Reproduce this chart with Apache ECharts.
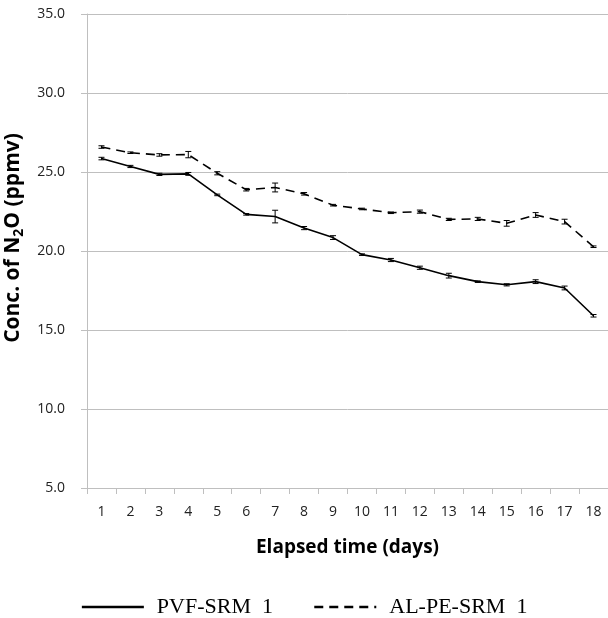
<!DOCTYPE html>
<html>
<head>
<meta charset="utf-8">
<script src="https://cdn.jsdelivr.net/npm/echarts@6/dist/echarts.min.js"></script>
<style>
html,body{margin:0;padding:0;background:#fff;}
#chart{width:608px;height:618px;}
</style>
</head>
<body>
<div id="chart"></div>
<script>
const days=['1','2','3','4','5','6','7','8','9','10','11','12','13','14','15','16','17','18'];
const pvf=[25.85,25.35,24.85,24.88,23.55,22.32,22.18,21.45,20.85,19.77,19.43,18.94,18.44,18.06,17.86,18.06,17.66,15.9];
const pvfErr=[0.08,0.07,0.07,0.09,0.05,0.05,0.4,0.1,0.12,0.05,0.1,0.1,0.15,0.05,0.07,0.12,0.12,0.08];
const alpe=[26.58,26.22,26.08,26.1,24.92,23.88,24.02,23.62,22.9,22.66,22.42,22.49,22.0,22.03,21.75,22.28,21.86,20.27];
const alpeErr=[0.08,0.05,0.08,0.2,0.1,0.08,0.28,0.08,0.05,0.05,0.05,0.1,0.07,0.1,0.18,0.15,0.15,0.05];

const errBar=(vals,errs)=>vals.map((v,i)=>[i,v-errs[i],v+errs[i]]);
const renderErr=function(params,api){
    const x=api.coord([api.value(0),api.value(1)])[0];
    const lo=api.coord([api.value(0),api.value(1)])[1];
    const hi=api.coord([api.value(0),api.value(2)])[1];
    const w=3;
    const st={stroke:'#000',lineWidth:1};
    return {type:'group',children:[
        {type:'line',shape:{x1:x,y1:lo,x2:x,y2:hi},style:st},
        {type:'line',shape:{x1:x-w,y1:lo,x2:x+w,y2:lo},style:st},
        {type:'line',shape:{x1:x-w,y1:hi,x2:x+w,y2:hi},style:st}
    ]};
};

var myChart=echarts.init(document.getElementById('chart'));
var option={
    backgroundColor:'#fff',
    animation:false,
    grid:{left:87,right:0,top:14,bottom:130,outerBoundsMode:'none',containLabel:false},
    legend:{
        bottom:-5,
        left:'center',
        itemWidth:62,
        itemHeight:14,
        itemGap:40,
        itemStyle:{opacity:0},
        lineStyle:{width:2.5},
        textStyle:{fontFamily:'Liberation Serif',fontSize:22,color:'#000',padding:[0,0,0,8]},
        data:['PVF-SRM  1','AL-PE-SRM  1']
    },
    xAxis:{
        type:'category',
        data:days,
        name:'Elapsed time (days)',
        nameLocation:'middle',
        nameGap:50,
        nameTextStyle:{fontFamily:'Open Sans',fontWeight:'bold',fontSize:19,color:'#000'},
        axisLine:{lineStyle:{color:'#bfbfbf'}},
        axisTick:{show:true,length:6,lineStyle:{color:'#bfbfbf'}},
        axisLabel:{fontFamily:'Open Sans',fontSize:14,color:'#222',margin:17}
    },
    yAxis:{
        type:'value',
        min:5,
        max:35,
        interval:5,
        name:'{a|Conc. of N}{s|2}{a|O (ppmv)}',
        nameLocation:'middle',
        nameGap:55,
        nameTextStyle:{
            padding:[0,0,0,26],
            rich:{
                a:{fontFamily:'Open Sans',fontWeight:'bold',fontSize:21,color:'#000'},
                s:{fontFamily:'Open Sans',fontWeight:'bold',fontSize:14,color:'#000',padding:[12,0,0,0]}
            }
        },
        axisLine:{show:true,lineStyle:{color:'#bfbfbf'}},
        axisTick:{show:true,length:6,lineStyle:{color:'#bfbfbf'}},
        splitLine:{lineStyle:{color:'#bfbfbf'}},
        axisLabel:{fontFamily:'Open Sans',fontSize:14,color:'#222',margin:22,formatter:v=>v.toFixed(1)}
    },
    series:[
        {
            name:'PVF-SRM  1',
            type:'line',
            data:pvf,
            symbol:'none',
            itemStyle:{color:'#000'},
            lineStyle:{color:'#000',width:1.6}
        },
        {
            name:'AL-PE-SRM  1',
            type:'line',
            data:alpe,
            symbol:'none',
            itemStyle:{color:'#000'},
            lineStyle:{color:'#000',width:1.6,type:[9,6]}
        },
        {
            type:'custom',
            renderItem:renderErr,
            data:errBar(pvf,pvfErr),
            encode:{x:0,y:[1,2]},
            z:3
        },
        {
            type:'custom',
            renderItem:renderErr,
            data:errBar(alpe,alpeErr),
            encode:{x:0,y:[1,2]},
            z:3
        }
    ]
};
myChart.setOption(option);
</script>
</body>
</html>
